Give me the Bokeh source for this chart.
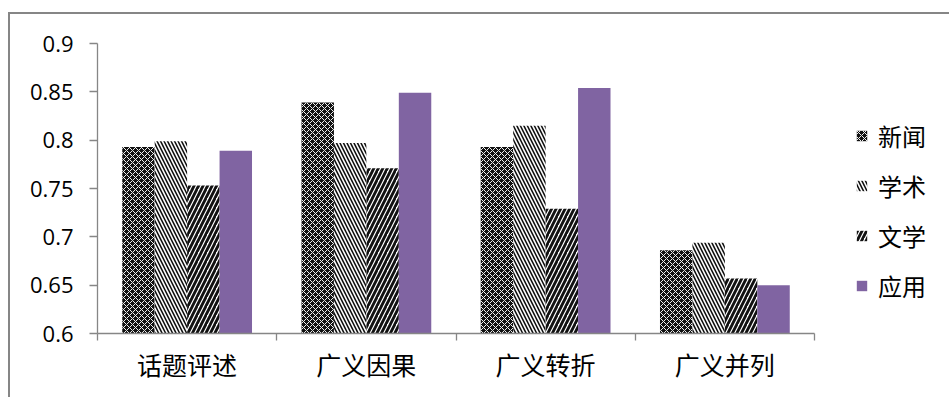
from bokeh.plotting import figure
from bokeh.models import (ColumnDataSource, FixedTicker, CustomJSTickFormatter,
                          Legend, LegendItem, Range1d)
from bokeh.transform import dodge
from bokeh.embed import file_html
from bokeh.resources import INLINE

categories = ["话题评述", "广义因果", "广义转折", "广义并列"]
series_names = ["新闻", "学术", "文学", "应用"]
news = [0.793, 0.839, 0.793, 0.686]
academic = [0.799, 0.797, 0.815, 0.694]
literature = [0.753, 0.771, 0.729, 0.657]
applied = [0.789, 0.849, 0.854, 0.650]
y_ticks = [0.6, 0.65, 0.7, 0.75, 0.8, 0.85, 0.9]

src = ColumnDataSource(dict(
    x=[i + 0.5 for i in range(len(categories))],
    news=news, academic=academic, literature=literature, applied=applied,
))

W, H = 949, 397
LEFT, TOP, FRAME_BOTTOM = 97, 43, 333
AXIS_W = 717          # pixel width of the category axis
n = len(categories)
x_end = n * (W - LEFT) / AXIS_W   # frame extends to the right edge (legend lives there)

axis_col = "#868686"
bg = ("linear-gradient(#868686,#868686) 8px 12px / 2px 1000px no-repeat, "
      "linear-gradient(#868686,#868686) 8px 12px / 2000px 2px no-repeat")

p = figure(width=W, height=H, output_backend="svg", toolbar_location=None,
           x_range=Range1d(0, x_end), y_range=Range1d(y_ticks[0], y_ticks[-1]),
           min_border_left=LEFT, min_border_right=0, min_border_top=TOP,
           min_border_bottom=H - FRAME_BOTTOM,
           styles={"background": bg})
p.outline_line_color = None
p.xgrid.grid_line_color = None
p.ygrid.grid_line_color = None
p.background_fill_alpha = 0
p.border_fill_alpha = 0

w = 0.181
styles = [
    dict(col="news", fill_color="#111111", hatch_pattern="x", hatch_color="#f0f0f0",
         hatch_weight=1.0, hatch_scale=6),
    dict(col="academic", fill_color="white", hatch_pattern="\\", hatch_color="#111111",
         hatch_weight=1.6, hatch_scale=7),
    dict(col="literature", fill_color="white", hatch_pattern="/", hatch_color="#111111",
         hatch_weight=2.8, hatch_scale=9),
    dict(col="applied", fill_color="#8064A2", hatch_pattern=None, hatch_color=None,
         hatch_weight=1, hatch_scale=8),
]
offsets = [-1.5 * w, -0.5 * w, 0.5 * w, 1.5 * w]
items = []
for name, st, off in zip(series_names, styles, offsets):
    kw = dict(fill_color=st["fill_color"], line_color=None)
    if st["hatch_pattern"]:
        kw.update(hatch_pattern=st["hatch_pattern"], hatch_color=st["hatch_color"],
                  hatch_weight=st["hatch_weight"], hatch_scale=st["hatch_scale"])
    r = p.vbar(x=dodge("x", off, range=p.x_range), top=st["col"], bottom=y_ticks[0],
               width=w, source=src, **kw)
    items.append(LegendItem(label=name, renderers=[r]))

# axes
p.yaxis.ticker = FixedTicker(ticks=y_ticks)
p.yaxis.formatter = CustomJSTickFormatter(code="return String(Math.round(tick*100)/100);")
p.yaxis.major_tick_out = 8
p.yaxis.major_tick_in = 0
p.yaxis.minor_tick_line_color = None
p.yaxis.major_label_standoff = 16
p.yaxis.major_label_text_font = "Open Sans"
p.yaxis.major_label_text_font_size = "22px"
p.yaxis.major_label_text_color = "black"

p.xaxis.bounds = (0, n)
p.xaxis.ticker = FixedTicker(ticks=[i + 0.5 for i in range(n)],
                             minor_ticks=list(range(n + 1)))
p.xaxis.formatter = CustomJSTickFormatter(args=dict(labels=categories),
                                          code="return labels[Math.floor(tick)];")
p.xaxis.major_tick_out = 0
p.xaxis.major_tick_in = 0
p.xaxis.minor_tick_out = 7
p.xaxis.minor_tick_in = 0
p.xaxis.major_label_standoff = 5
p.xaxis.major_label_text_font = "Noto Sans CJK SC"
p.xaxis.major_label_text_font_size = "25px"
p.xaxis.major_label_text_color = "black"

for ax in (p.xaxis, p.yaxis):
    ax.axis_line_color = axis_col
    ax.axis_line_width = 1.3
    ax.major_tick_line_color = axis_col
    ax.major_tick_line_width = 1.3
p.xaxis.minor_tick_line_color = axis_col
p.xaxis.minor_tick_line_width = 1.3

legend = Legend(items=items, location=(758, 30), orientation="vertical",
                glyph_width=13, glyph_height=13, label_standoff=10, label_height=24,
                spacing=15, padding=0, margin=0,
                label_text_font="Noto Sans CJK SC", label_text_font_size="24px",
                label_text_color="black", border_line_color=None,
                background_fill_alpha=0)
p.add_layout(legend, "center")

open("out.html", "w").write(file_html(p, INLINE))
